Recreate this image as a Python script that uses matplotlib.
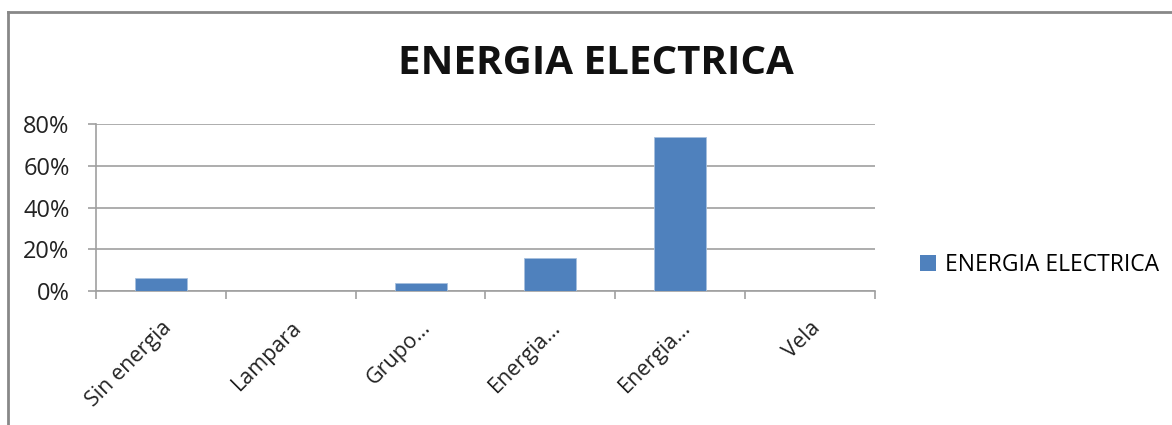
import matplotlib
matplotlib.use("Agg")
import matplotlib.pyplot as plt
from matplotlib.lines import Line2D
from matplotlib.patches import Patch
from matplotlib.ticker import FuncFormatter

categories = ["Sin energia", "Lampara", "Grupo…", "Energia…", "Energia…", "Vela"]
values = [0.06, 0.0, 0.04, 0.16, 0.74, 0.0]
series_name = "ENERGIA ELECTRICA"
yticks = [0.0, 0.2, 0.4, 0.6, 0.8]

BLUE = "#4f81bd"
GRID = "#a0a0a0"
W, H = 1172, 425

plt.rcParams["font.family"] = ["Open Sans", "DejaVu Sans"]

fig = plt.figure(figsize=(W / 100, H / 100), dpi=100)
ax = fig.add_axes([96 / W, 1 - 291 / H, (875 - 96) / W, (291 - 124.3) / H])

x = list(range(len(categories)))
ax.bar(x, values, width=0.40, color=BLUE, edgecolor="#a7c0de", linewidth=0.6,
       zorder=3)

ax.set_xlim(-0.5, len(categories) - 0.5)
ax.set_ylim(0, 0.8)
ax.set_yticks(yticks)
ax.yaxis.set_major_formatter(FuncFormatter(lambda v, _: f"{v * 100:.0f}%"))
ax.grid(axis="y", color=GRID, lw=1.2, zorder=0)

# category labels centred, ticks on the boundaries
ax.set_xticks(x)
ax.set_xticklabels(categories, rotation=45, ha="right", rotation_mode="anchor",
                   fontsize=15.5, color="#222222")
ax.tick_params(axis="x", length=0, pad=19)
ax.set_xticks([i - 0.5 for i in range(len(categories) + 1)], minor=True)
ax.tick_params(axis="x", which="minor", length=6, color=GRID, width=1.2)
ax.tick_params(axis="y", length=6, color=GRID, width=1.2, labelsize=17,
               labelcolor="#222222", pad=13)

for s in ["top", "right"]:
    ax.spines[s].set_visible(False)
ax.spines["left"].set_color(GRID)
ax.spines["bottom"].set_color(GRID)
ax.spines["left"].set_linewidth(1.2)
ax.spines["bottom"].set_linewidth(1.2)

fig.text(596 / W, 1 - 63 / H, series_name, ha="center", va="center",
         fontsize=29, fontweight="bold", color="#111111")

fig.legend(handles=[Patch(facecolor=BLUE, edgecolor="none", label=series_name)],
           loc="center left", bbox_to_anchor=(899 / W, 1 - 265 / H),
           frameon=False, fontsize=16.5, handlelength=0.7, handleheight=0.7,
           handletextpad=0.4)

# outer chart frame (left and top edges visible)
fig.add_artist(Line2D([8 / W, 8 / W], [0, 1 - 12 / H], transform=fig.transFigure,
                      color="#888888", lw=2))
fig.add_artist(Line2D([8 / W, 1], [1 - 12 / H, 1 - 12 / H],
                      transform=fig.transFigure, color="#888888", lw=2))

fig.savefig("out.png", dpi=100)
